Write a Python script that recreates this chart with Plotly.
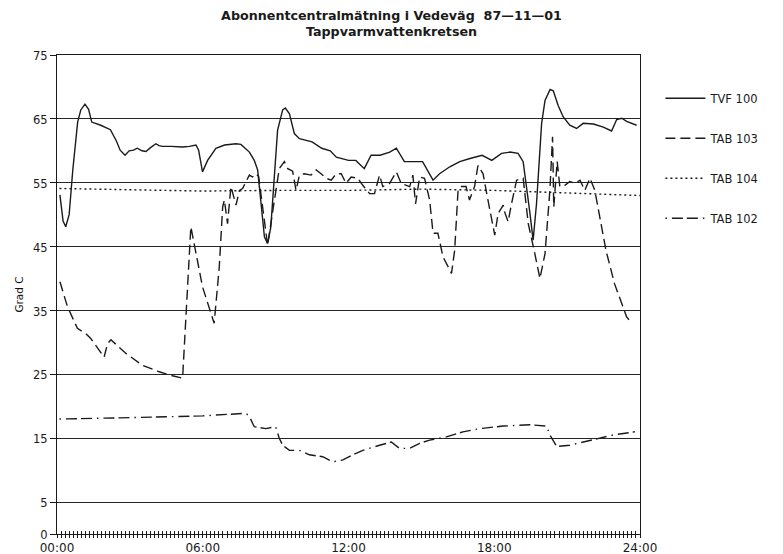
import plotly.graph_objects as go

# Hours since midnight and temperatures (°C) for each measuring point
tvf100_t = [0.12, 0.25, 0.36, 0.5, 0.65, 0.85, 0.98, 1.15, 1.3, 1.43, 1.8, 2.2, 2.45, 2.6, 2.8,
            2.97, 3.15, 3.3, 3.5, 3.66, 3.85, 4.07, 4.2, 4.34, 4.7, 5.17, 5.45, 5.72, 5.83, 5.99,
            6.2, 6.54, 6.9, 7.37, 7.57, 7.92, 8.12, 8.26, 8.33, 8.54, 8.67, 8.8, 8.88, 9.0, 9.08,
            9.29, 9.4, 9.57, 9.77, 9.98, 10.5, 10.9, 11.25, 11.5, 12.0, 12.3, 12.65, 12.93, 13.3,
            13.7, 13.97, 14.3, 14.65, 15.05, 15.48, 15.75, 16.17, 16.58, 17.0, 17.5, 17.9, 18.3,
            18.65, 18.98, 19.19, 19.3, 19.47, 19.6, 19.74, 19.95, 20.09, 20.3, 20.43, 20.63,
            20.84, 21.11, 21.39, 21.66, 22.08, 22.49, 22.83, 23.04, 23.25, 23.45, 23.86]
tvf100_v = [53.1, 49.0, 48.1, 50.0, 57.0, 64.5, 66.4, 67.3, 66.5, 64.5, 64.0, 63.3, 61.5, 60.1, 59.3,
            60.0, 60.1, 60.4, 60.0, 59.9, 60.5, 61.1, 60.8, 60.7, 60.7, 60.6, 60.7, 60.9, 60.1, 56.7,
            58.5, 60.4, 60.9, 61.1, 61.0, 59.8, 58.5, 57.0, 54.4, 46.5, 45.5, 48.0, 52.3, 58.0, 63.2,
            66.4, 66.7, 65.8, 62.7, 61.9, 61.4, 60.4, 60.0, 59.0, 58.5, 58.5, 57.2, 59.3, 59.3,
            59.8, 60.4, 58.3, 58.3, 58.3, 55.4, 56.4, 57.5, 58.3, 58.8, 59.3, 58.5, 59.6,
            59.8, 59.6, 58.3, 55.4, 50.2, 46.0, 51.7, 64.3, 67.9, 69.6, 69.4, 67.1,
            65.3, 64.0, 63.5, 64.3, 64.2, 63.7, 63.1, 64.9, 65.1, 64.6, 64.0]

tab103_t = [0.12, 0.43, 0.84, 1.18, 1.39, 1.94, 2.08, 2.22, 2.83, 3.52, 4.21, 4.62, 5.17, 5.51,
            5.99, 6.47, 6.68, 6.82, 6.89, 7.02, 7.16, 7.37, 7.51, 7.64, 7.78, 7.92, 8.05, 8.19,
            8.3, 8.67, 8.88, 9.15, 9.36, 9.5, 9.7, 9.84, 9.98, 10.18, 10.46, 10.67, 10.87, 11.08,
            11.29, 11.49, 11.7, 11.9, 12.11, 12.38, 12.59, 12.87, 13.07, 13.28, 13.41, 13.69,
            13.97, 14.17, 14.52, 14.65, 14.76, 14.93, 15.13, 15.34, 15.48, 15.68, 15.89, 16.24,
            16.37, 16.51, 16.65, 16.84, 16.98, 17.19, 17.33, 17.54, 17.74, 18.02, 18.16, 18.37,
            18.43, 18.57, 18.71, 18.92, 19.19, 19.4, 19.67, 19.88, 20.09, 20.29, 20.4, 20.45,
            20.59, 20.7, 20.91, 21.11, 21.32, 21.53, 21.73, 21.94, 22.14, 22.6, 22.95, 23.24,
            23.45, 23.56, 23.6]
tab103_v = [39.5, 35.6, 32.2, 31.4, 30.6, 27.7, 29.8, 30.4, 28.3, 26.4, 25.4, 24.9, 24.4, 48.1,
            38.7, 33.0, 41.8, 51.2, 52.3, 48.6, 54.4, 51.5, 53.8, 54.1, 55.2, 56.2, 55.9, 56.4,
            56.0, 45.2, 50.5, 57.2, 58.3, 57.2, 56.8, 53.8, 56.2, 56.4, 56.2, 57.0, 56.4, 55.7,
            55.4, 56.4, 56.4, 54.9, 55.9, 55.7, 54.6, 53.3, 53.3, 56.2, 54.4, 54.9,
            56.7, 54.9, 54.4, 56.2, 51.7, 55.9, 55.7, 52.3, 47.1, 47.1, 43.4, 40.8,
            44.4, 53.8, 54.4, 54.4, 52.3, 54.4, 57.7, 56.4, 52.3, 46.8, 50.2, 51.5,
            50.4, 48.9, 51.7, 55.4, 55.7, 48.6, 43.9, 40.0, 43.9, 53.8, 62.2, 51.2,
            58.3, 54.4, 54.6, 55.2, 54.9, 55.4, 53.8, 55.7, 53.8, 44.4, 39.2, 36.1,
            34.0, 33.5, 33.7]

tab104_t = [0.1, 3.0, 6.0, 9.0, 12.0, 15.0, 18.0, 21.0, 24.0]
tab104_v = [54.1, 53.9, 53.7, 53.8, 53.8, 54.0, 53.8, 53.4, 53.0]

tab102_t = [0.1, 2.0, 4.0, 6.0, 7.78, 7.92, 8.12, 8.6, 9.0, 9.15, 9.29, 9.57, 9.98, 10.39, 10.94,
            11.35, 11.77, 12.18, 12.59, 13.28, 13.76, 14.1, 14.52, 14.93, 15.34, 16.03, 16.71,
            17.4, 18.36, 19.46, 20.15, 20.29, 20.57, 21.11, 21.94, 22.89, 23.79]
tab102_v = [18.0, 18.1, 18.3, 18.5, 18.9, 18.4, 16.8, 16.5, 16.8, 15.0, 13.9, 13.1, 13.1, 12.4, 12.1,
            11.3, 11.6, 12.4, 13.1, 13.9, 14.4, 13.4, 13.4, 14.2, 14.7, 15.2, 16.0,
            16.5, 16.9, 17.1, 16.9, 15.5, 13.7, 13.9, 14.7, 15.5, 16.0]

x_tick_vals = [0, 6, 12, 18, 24]
x_tick_text = ["00:00", "06:00", "12:00", "18:00", "24:00"]
y_tick_vals = [0, 5, 15, 25, 35, 45, 55, 65, 75]

INK = "#1a1a1a"
PLOT_FONT = "DejaVu Sans"

# (legend name, times, values, dash pattern, x axis used)
series = [
    ("TVF 100", tvf100_t, tvf100_v, "solid", "x"),
    ("TAB 103", tab103_t, tab103_v, "10px,5px", "x"),
    ("TAB 104", tab104_t, tab104_v, "2px,3px", "x2"),
    ("TAB 102", tab102_t, tab102_v, "1.5px,5px,11px,4px,11px,5px", "x3"),
]

fig = go.Figure()
for name, t, v, dash, xax in series:
    fig.add_trace(go.Scatter(
        x=t, y=v, mode="lines", name=name, legendgroup=name, xaxis=xax,
        line=dict(color=INK, width=1.4, dash=dash),
    ))

# 10-minute tick marks crossing the time axis: one overlay axis draws them
# below the line, another above it
tick_axis = dict(
    range=[0, 24], overlaying="x", anchor="y", side="bottom",
    tickmode="linear", tick0=0, dtick=1 / 6, showticklabels=False,
    showgrid=False, zeroline=False, showline=False,
    ticklen=3, tickcolor=INK, tickwidth=1,
)

fig.update_layout(
    width=783, height=554,
    margin=dict(l=57, r=143, t=55, b=20, autoexpand=False),
    paper_bgcolor="white", plot_bgcolor="white",
    font=dict(family=PLOT_FONT, size=12, color=INK),
    title=dict(
        text="<b>Abonnentcentralmätning i Vedeväg  87—11—01</b><br><b>Tappvarmvattenkretsen</b>",
        x=0.5, xref="container", xanchor="center",
        y=1 - 19.5 / 554, yref="container", yanchor="middle",
        font=dict(family=PLOT_FONT, size=12.7, color=INK),
    ),
    showlegend=True,
    legend=dict(
        x=1.035, y=0.94, xanchor="left", yanchor="top",
        traceorder="grouped", tracegroupgap=21, itemwidth=40,
        font=dict(family=PLOT_FONT, size=11.5, color=INK),
        bgcolor="rgba(0,0,0,0)",
    ),
    xaxis=dict(
        range=[0, 24], tickmode="array", tickvals=x_tick_vals, ticktext=x_tick_text,
        showgrid=False, zeroline=False,
        showline=True, linecolor=INK, linewidth=1.3, mirror=True,
        ticks="", ticklabelstandoff=2,
        tickfont=dict(family=PLOT_FONT, size=12, color=INK),
    ),
    xaxis2=dict(tick_axis, ticks="outside"),
    xaxis3=dict(tick_axis, ticks="inside"),
    yaxis=dict(
        range=[0, 75], tickvals=y_tick_vals,
        showgrid=True, gridcolor="#262626", gridwidth=1.3, zeroline=False,
        showline=True, linecolor=INK, linewidth=1.3, mirror=True,
        ticks="outside", ticklen=6, tickcolor=INK, tickwidth=1.2,
        ticklabelshift=1,
        tickfont=dict(family=PLOT_FONT, size=11.5, color=INK),
        title=dict(text="Grad C", standoff=7,
                   font=dict(family=PLOT_FONT, size=10.5, color="#111111")),
    ),
)

fig.write_html("out.html")
